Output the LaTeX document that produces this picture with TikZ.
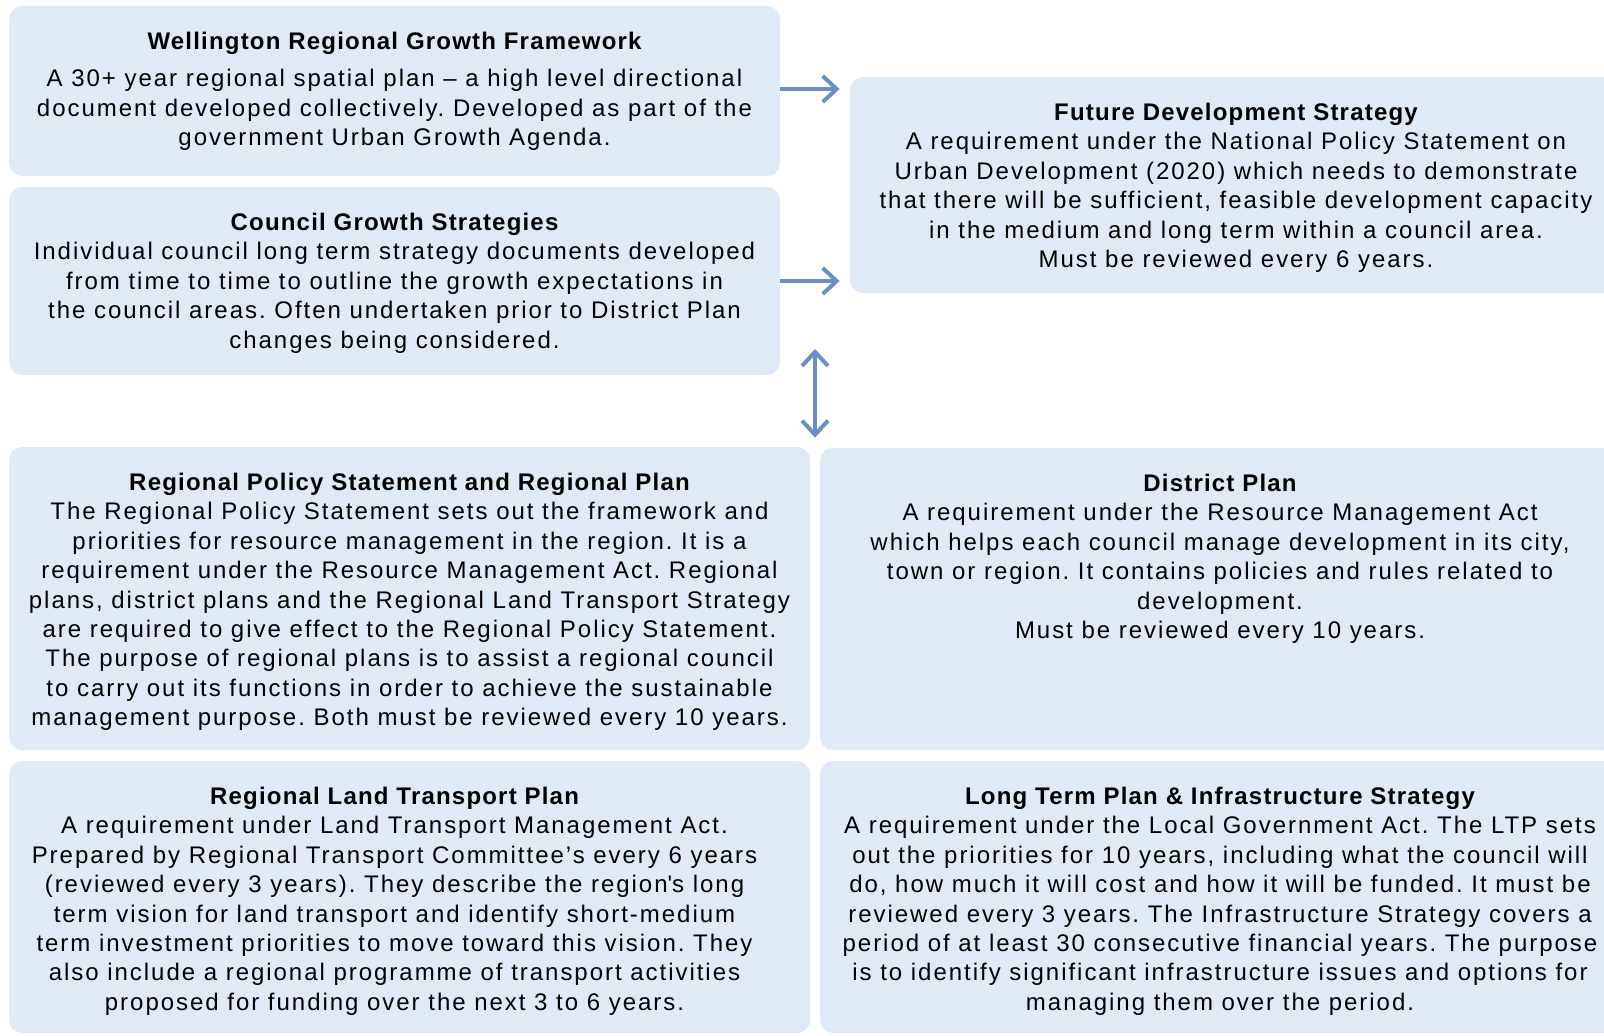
\documentclass[tikz,border=0pt]{standalone}
\usepackage{fontspec}
\setmainfont{Liberation Sans}[LetterSpace=8.2]
\newfontfamily\headfont{Liberation Sans}[LetterSpace=5]
\newfontfamily\quotefont{Liberation Sans}[LetterSpace=8.2,Ligatures=TeXOff]
\usetikzlibrary{positioning,arrows.meta}
\definecolor{boxblue}{RGB}{224,233,246}
\definecolor{arrowblue}{RGB}{106,143,197}
\frenchspacing

\begin{document}
\begin{tikzpicture}[x=0.5pt,y=-0.5pt,
  box/.style={fill=boxblue,rounded corners=6.5pt,inner sep=0pt},
  txt/.style={align=center,inner sep=0pt,font=\fontsize{12}{14.7}\selectfont},
  arr/.style={line width=2pt,draw=arrowblue,-{Straight Barb[length=7pt,width=13pt]}},
  dbl/.style={arr,{Straight Barb[length=7pt,width=13pt]}-{Straight Barb[length=7pt,width=13pt]}}]
\useasboundingbox (0,0) rectangle (1604,1035);
\clip (0,0) rectangle (1604,1035);
\node[box,minimum width=385.5pt,minimum height=85pt] (wrgf) at (394.5,91) {};
\node[box,minimum width=385.5pt,minimum height=94pt] (cgs) at (394.5,281) {};
\node[box,minimum width=386pt,minimum height=108pt] (fds) at (1236,185) {};
\node[box,minimum width=400.5pt,minimum height=151.5pt] (rps) at (409.5,598.5) {};
\node[box,minimum width=400pt,minimum height=151pt] (dp) at (1220,599) {};
\node[box,minimum width=400.5pt,minimum height=136pt] (rltp) at (409.5,897) {};
\node[box,minimum width=400pt,minimum height=136pt] (ltp) at (1220,897) {};
\node[txt,below=13pt of wrgf.north] (wrgfText) {{\headfont\bfseries Wellington Regional Growth Framework}\\[4pt]
A 30+ year regional spatial plan – a high level directional\\
document developed collectively. Developed as part of the\\
government Urban Growth Agenda.};
\node[txt,below=13pt of cgs.north] (cgsText) {{\headfont\bfseries Council Growth Strategies}\\
Individual council long term strategy documents developed\\
from time to time to outline the growth expectations in\\
the council areas. Often undertaken prior to District Plan\\
changes being considered.};
\node[txt,below=13pt of fds.north] (fdsText) {{\headfont\bfseries Future Development Strategy}\\
A requirement under the National Policy Statement on\\
Urban Development (2020) which needs to demonstrate\\
that there will be sufficient, feasible development capacity\\
in the medium and long term within a council area.\\
Must be reviewed every 6 years.};
\node[txt,below=13pt of rps.north] (rpsText) {{\headfont\bfseries Regional Policy Statement and Regional Plan}\\
The Regional Policy Statement sets out the framework and\\
priorities for resource management in the region. It is a\\
requirement under the Resource Management Act. Regional\\
plans, district plans and the Regional Land Transport Strategy\\
are required to give effect to the Regional Policy Statement.\\
The purpose of regional plans is to assist a regional council\\
to carry out its functions in order to achieve the sustainable\\
management purpose. Both must be reviewed every 10 years.};
\node[txt,below=13pt of dp.north] (dpText) {{\headfont\bfseries District Plan}\\
A requirement under the Resource Management Act\\
which helps each council manage development in its city,\\
town or region. It contains policies and rules related to\\
development.\\
Must be reviewed every 10 years.};
\node[txt,below=13pt of rltp.north,xshift=-7.5pt] (rltpText) {{\headfont\bfseries Regional Land Transport Plan}\\
A requirement under Land Transport Management Act.\\
Prepared by Regional Transport Committee’s every 6 years\\
(reviewed every 3 years). They describe the region{\quotefont'}s long\\
term vision for land transport and identify short-medium\\
term investment priorities to move toward this vision. They\\
also include a regional programme of transport activities\\
proposed for funding over the next 3 to 6 years.};
\node[txt,below=13pt of ltp.north] (ltpText) {{\headfont\bfseries Long Term Plan \& Infrastructure Strategy}\\
A requirement under the Local Government Act. The LTP sets\\
out the priorities for 10 years, including what the council will\\
do, how much it will cost and how it will be funded. It must be\\
reviewed every 3 years. The Infrastructure Strategy covers a\\
period of at least 30 consecutive financial years. The purpose\\
is to identify significant infrastructure issues and options for\\
managing them over the period.};
\draw[arr,shorten >=5pt] ([yshift=1pt]wrgf.east) -- ([yshift=1pt]wrgf.east -| fds.west);
\draw[arr,shorten >=5pt] (cgs.east) -- (cgs.east -| fds.west);
\coordinate (link) at (815,349);
\draw[dbl,shorten >=4.5pt] (link) -- (link |- rps.north);
\end{tikzpicture}
\end{document}
